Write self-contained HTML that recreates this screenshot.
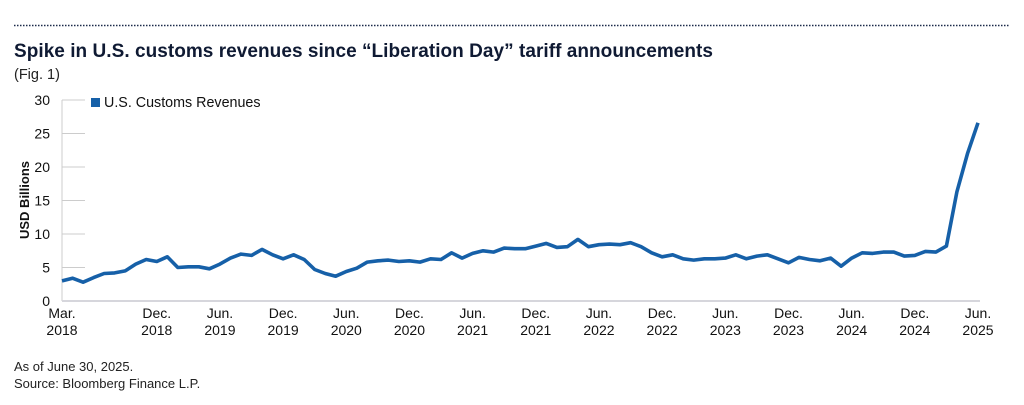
<!DOCTYPE html>
<html><head><meta charset="utf-8"><style>
body{margin:0;width:1024px;height:405px;background:#fff;font-family:"Liberation Sans",sans-serif;overflow:hidden}
</style></head><body>
<svg width="1024" height="405" style="position:absolute;left:0;top:0">
<line x1="14" y1="25.5" x2="1010" y2="25.5" stroke="#1b2a4a" stroke-width="1.5" stroke-dasharray="1.5,1.5"/>
<text x="14" y="57" font-size="19" font-weight="bold" fill="#0f1a33" textLength="699">Spike in U.S. customs revenues since “Liberation Day” tariff announcements</text>
<text x="14" y="79" font-size="14.5" fill="#222">(Fig. 1)</text>
<text transform="translate(29,200) rotate(-90)" text-anchor="middle" font-size="13" font-weight="bold" fill="#111">USD Billions</text>
<g id="yaxis"></g><g id="xaxis"></g>
<line x1="62" y1="100" x2="62" y2="301" stroke="#ccc" stroke-width="1"/>
<line x1="62" y1="301" x2="980" y2="301" stroke="#d6d6dc" stroke-width="2"/>
<path id="series" fill="none" stroke="#1660a8" stroke-width="3.6" stroke-linejoin="round"/>
<rect x="91" y="98" width="9" height="9" fill="#1660a8"/>
<text x="104" y="107" font-size="14.3" fill="#111">U.S. Customs Revenues</text>
<text x="14" y="371" font-size="13" fill="#222">As of June 30, 2025.</text>
<text x="14" y="388" font-size="13" fill="#222">Source: Bloomberg Finance L.P.</text>
</svg>
<script>
const values=[3.0,3.4,2.8,3.5,4.1,4.2,4.5,5.5,6.2,5.9,
6.6,5.0,5.1,5.1,4.8,5.5,6.4,7.0,6.8,7.7,6.9,6.3,
6.9,6.2,4.7,4.1,3.7,4.4,4.9,5.8,6.0,6.1,5.9,6.0,
5.8,6.3,6.2,7.2,6.4,7.1,7.5,7.3,7.9,7.8,7.8,8.2,
8.6,8.0,8.1,9.2,8.1,8.4,8.5,8.4,8.7,8.1,7.2,6.6,
6.9,6.3,6.1,6.3,6.3,6.4,6.9,6.3,6.7,6.9,6.3,5.7,
6.5,6.2,6.0,6.4,5.2,6.4,7.2,7.1,7.3,7.3,6.7,6.8,
7.4,7.3,8.2,16.3,22.0,26.6];
const yTicks=[0,5,10,15,20,25,30];
const xTickIdx=[0,9,15,21,27,33,39,45,51,57,63,69,75,81,87];
const xTickLabels=[["Mar.","2018"],["Dec.","2018"],["Jun.","2019"],["Dec.","2019"],["Jun.","2020"],["Dec.","2020"],["Jun.","2021"],["Dec.","2021"],["Jun.","2022"],["Dec.","2022"],["Jun.","2023"],["Dec.","2023"],["Jun.","2024"],["Dec.","2024"],["Jun.","2025"]];
const NS="http://www.w3.org/2000/svg";
const x=i=>62+i*(978-62)/(values.length-1);
const y=v=>301-v*(201/30);
const ya=document.getElementById('yaxis');
yTicks.forEach(t=>{
 const l=document.createElementNS(NS,'line');
 
 
 l.setAttribute('x1',62);l.setAttribute('x2',85);l.setAttribute('y1',y(t));l.setAttribute('y2',y(t));
 l.setAttribute('stroke','#ccc');ya.appendChild(l);
 const tx=document.createElementNS(NS,'text');
 
 
 tx.setAttribute('x',50);tx.setAttribute('y',y(t)+5);tx.setAttribute('text-anchor','end');
 tx.setAttribute('font-size','14');tx.setAttribute('fill','#111');tx.textContent=t;ya.appendChild(tx);
});
const xa=document.getElementById('xaxis');
xTickIdx.forEach((i,k)=>{
 xTickLabels[k].forEach((s,j)=>{
  const tx=document.createElementNS(NS,'text');
  
  
  tx.setAttribute('x',x(i));tx.setAttribute('y',318+j*17);tx.setAttribute('text-anchor','middle');
  tx.setAttribute('font-size','14');tx.setAttribute('fill','#111');tx.textContent=s;xa.appendChild(tx);
 });
});
document.getElementById('series').setAttribute('d',values.map((v,i)=>(i?'L':'M')+x(i).toFixed(1)+','+y(v).toFixed(1)).join(''));
</script>
</body></html>
